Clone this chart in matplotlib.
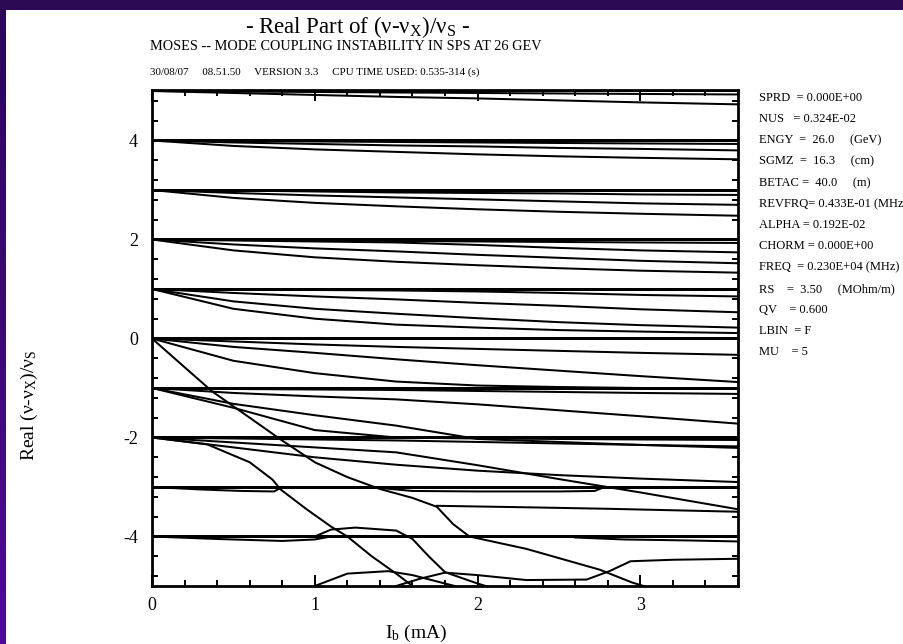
import numpy as np
import matplotlib
matplotlib.use("Agg")
import matplotlib.pyplot as plt
from matplotlib.ticker import MultipleLocator

plt.rcParams['font.family'] = ['Liberation Serif', 'DejaVu Serif']
plt.rcParams['mathtext.fontset'] = 'custom'
plt.rcParams['mathtext.rm'] = 'Liberation Serif'
plt.rcParams['mathtext.it'] = 'Liberation Serif'

# beam current grid (mA) for the slowly drifting branches
IB = [0, 0.5, 1.0, 1.5, 2.0, 2.5, 3.0, 3.6]

# Re((nu - nu_x)/nu_s) of the coherent modes, grouped by azimuthal number
mode_p5 = [
    [5.00, 5.00, 5.00, 5.00, 5.00, 5.00, 5.00, 5.00],
    [5.00, 4.99, 4.98, 4.97, 4.96, 4.95, 4.94, 4.93],
    [5.00, 4.96, 4.92, 4.88, 4.85, 4.81, 4.77, 4.73],
]
mode_p4 = [
    [4.00, 4.00, 4.00, 4.00, 4.00, 4.00, 4.00, 4.00],
    [3.98, 3.98, 3.98, 3.98, 3.98, 3.98, 3.98, 3.98],
    [4.00, 3.99, 3.98, 3.97, 3.96, 3.95, 3.94, 3.93],
    [4.00, 3.96, 3.93, 3.90, 3.88, 3.85, 3.83, 3.80],
    [4.00, 3.89, 3.82, 3.77, 3.72, 3.68, 3.65, 3.62],
]
mode_p3 = [
    [3.00, 3.00, 3.00, 3.00, 3.00, 3.00, 3.00, 3.00],
    [2.98, 2.98, 2.98, 2.98, 2.98, 2.98, 2.98, 2.98],
    [3.00, 2.99, 2.97, 2.95, 2.94, 2.93, 2.91, 2.90],
    [3.00, 2.94, 2.89, 2.85, 2.81, 2.77, 2.73, 2.70],
    [3.00, 2.84, 2.74, 2.67, 2.61, 2.56, 2.52, 2.48],
]
mode_p2 = [
    [2.00, 2.00, 2.00, 2.00, 2.00, 2.00, 2.00, 2.00],
    [1.98, 1.98, 1.98, 1.98, 1.98, 1.98, 1.98, 1.98],
    [2.00, 1.99, 1.98, 1.97, 1.96, 1.95, 1.94, 1.93],
    [2.00, 1.98, 1.96, 1.94, 1.89, 1.83, 1.78, 1.74],
    [2.00, 1.90, 1.82, 1.76, 1.69, 1.63, 1.57, 1.52],
    [2.00, 1.78, 1.64, 1.55, 1.48, 1.42, 1.37, 1.33],
]
mode_p1 = [
    [1.00, 1.00, 1.00, 1.00, 1.00, 1.00, 1.00, 1.00],
    [0.98, 0.98, 0.98, 0.98, 0.98, 0.98, 0.98, 0.98],
    [1.00, 0.99, 0.98, 0.97, 0.95, 0.92, 0.88, 0.85],
    [1.00, 0.92, 0.85, 0.79, 0.72, 0.66, 0.59, 0.53],
    [1.00, 0.75, 0.60, 0.50, 0.41, 0.33, 0.27, 0.22],
    [1.00, 0.60, 0.40, 0.28, 0.22, 0.17, 0.14, 0.11],
]
mode_0 = [
    [0.00, 0.00, 0.00, 0.00, 0.00, 0.00, 0.00, 0.00],
    [-0.02, -0.02, -0.02, -0.02, -0.02, -0.02, -0.02, -0.02],
    [0.00, -0.06, -0.12, -0.17, -0.21, -0.25, -0.29, -0.33],
    [0.00, -0.17, -0.29, -0.42, -0.54, -0.65, -0.76, -0.88],
    [0.00, -0.45, -0.70, -0.87, -0.95, -0.98, -1.00, -1.01],
]
mode_m1 = [
    [-1.00, -1.00, -1.00, -1.00, -1.00, -1.00, -1.00, -1.00],
    [-1.02, -1.02, -1.02, -1.02, -1.02, -1.02, -1.02, -1.02],
    [-1.00, -1.02, -1.03, -1.04, -1.06, -1.08, -1.10, -1.12],
    [-1.00, -1.10, -1.17, -1.23, -1.33, -1.45, -1.57, -1.72],
    [-1.00, -1.32, -1.55, -1.76, -2.03, -2.09, -2.15, -2.21],
    [-1.00, -1.40, -1.85, -2.00, -2.02, -2.03, -2.04, -2.05],
]
mode_m2 = [
    [-2.00, -2.00, -2.00, -2.00, -2.00, -2.00, -2.00, -2.00],
    [-2.02, -2.02, -2.02, -2.02, -2.02, -2.02, -2.02, -2.02],
    [-2.00, -2.02, -2.04, -2.06, -2.09, -2.12, -2.15, -2.18],
    [-2.00, -2.10, -2.20, -2.30, -2.56, -2.84, -3.11, -3.45],
    [-2.00, -2.20, -2.40, -2.55, -2.67, -2.76, -2.83, -2.90],
]
mode_m3 = [
    [-3.00, -3.00, -3.00, -3.00, -3.00, -3.00, -3.00, -3.00],
    [-3.02, -3.02, -3.02, -3.02, -3.02, -3.02, -3.02, -3.02],
]
mode_m4 = [
    [-4.00, -4.00, -4.00, -4.00, -4.00, -4.00, -4.00, -4.00],
    [-4.02, -4.02, -4.02, -4.02, -4.02, -4.02, -4.02, -4.02],
]

# branches that sweep across several families, each with its own current samples
sweep_a_x = [0, 0.2, 0.37, 0.6, 0.79, 1.0, 1.2, 1.4, 1.6, 1.75, 1.85, 1.95, 2.3, 2.75, 2.95, 3.02]
sweep_a_y = [0, -0.58, -1.07, -1.60, -2.04, -2.50, -2.80, -3.04, -3.22, -3.40, -3.75, -4.00,
             -4.25, -4.67, -4.93, -5.00]
sweep_b_x = [0, 0.34, 0.6, 0.74, 0.79, 0.95, 1.1, 1.2, 1.35, 1.5, 1.6]
sweep_b_y = [-2.00, -2.14, -2.50, -2.85, -3.05, -3.45, -3.80, -4.00, -4.40, -4.75, -5.00]
shelf_x = [1.75, 2.3, 2.8, 3.2, 3.6]
shelf_y = [-3.38, -3.41, -3.44, -3.47, -3.50]
split_m3a_x = [0, 0.3, 0.55, 0.75, 0.80]
split_m3a_y = [-3.00, -3.05, -3.08, -3.09, -3.00]
split_m3b_x = [1.40, 1.60, 2.00, 2.50, 2.72, 2.78]
split_m3b_y = [-3.02, -3.08, -3.09, -3.09, -3.08, -3.00]
split_m4a_x = [0, 0.4, 0.8, 1.0, 1.1]
split_m4a_y = [-4.00, -4.05, -4.09, -4.06, -4.00]
split_m4b_x = [2.6, 2.9, 3.3, 3.6]
split_m4b_y = [-4.02, -4.06, -4.08, -4.10]
bump_x = [1.0, 1.1, 1.25, 1.5, 1.6, 1.7, 1.8, 2.0, 2.05]
bump_y = [-4.00, -3.86, -3.82, -3.88, -4.05, -4.40, -4.72, -4.95, -5.00]
floor_a_x = [1.0, 1.2, 1.45, 1.6, 1.8, 1.86]
floor_a_y = [-5.00, -4.75, -4.70, -4.78, -4.95, -5.00]
floor_b_x = [1.5, 1.65, 1.8, 2.0, 2.3, 2.67, 2.81, 2.94, 3.2, 3.6]
floor_b_y = [-5.00, -4.85, -4.73, -4.78, -4.88, -4.87, -4.70, -4.50, -4.47, -4.45]

fig = plt.figure(figsize=(9.04, 6.44), dpi=100)
fig.patch.set_facecolor('white')

# slide frame strips along the top and left edges
frame = fig.add_axes([0, 0, 1, 1], zorder=-5)
frame.axis('off')
frame.add_patch(plt.Rectangle((0, 0), 904, 10, color='#2c0a54', lw=0))
grad = np.linspace(0, 1, 256).reshape(-1, 1)
frame.imshow(np.dstack([0.17 + 0.14 * grad, 0.03 + 0.0 * grad, 0.33 + 0.30 * grad]),
             extent=(0, 6, 644, 0), aspect='auto')
frame.set_xlim(0, 904)
frame.set_ylim(644, 0)

ax = fig.add_axes([152 / 904, 58 / 644, 586 / 904, 496 / 644])
ax.set_xlim(0, 3.6)
ax.set_ylim(-5, 5.02)

lw = 1.45
for fam in (mode_p5, mode_p4, mode_p3, mode_p2, mode_p1, mode_0,
            mode_m1, mode_m2, mode_m3, mode_m4):
    for branch in fam:
        ax.plot(IB, branch, color='black', lw=lw)
for xs, ys in ((sweep_a_x, sweep_a_y), (sweep_b_x, sweep_b_y), (shelf_x, shelf_y),
               (split_m3a_x, split_m3a_y), (split_m3b_x, split_m3b_y),
               (split_m4a_x, split_m4a_y), (split_m4b_x, split_m4b_y),
               (bump_x, bump_y), (floor_a_x, floor_a_y), (floor_b_x, floor_b_y)):
    ax.plot(xs, ys, color='black', lw=lw)

ax.xaxis.set_minor_locator(MultipleLocator(0.2))
ax.yaxis.set_minor_locator(MultipleLocator(0.4))
ax.tick_params(which='both', direction='in', top=True, right=True,
               labelsize=13, width=1.4)
ax.tick_params(axis='y', pad=10)
ax.tick_params(axis='x', pad=8)
ax.tick_params(which='major', length=8)
ax.tick_params(which='minor', length=4)
for s in ax.spines.values():
    s.set_linewidth(2)
ax.set_xticks([0, 1, 2, 3])
ax.set_xticklabels(['0', '1', '2', '3'])
ax.set_yticks([-4, -2, 0, 2, 4])
ax.set_yticklabels(['-4', '-2', '0', '2', '4'])

ax.set_xlabel(r'I$_{\rm b}$ (mA)', fontsize=14)
ax.xaxis.set_label_coords(264 / 586, -37 / 496)
ax.set_ylabel(r'Real (ν-ν$_{\rm X}$)/ν$_{\rm S}$', fontsize=14)
ax.yaxis.set_label_coords(-112 / 586, (586 - 405) / 496)

fig.text(358 / 904, 1 - 27 / 644, r'- Real Part of (ν-ν$_{\rm X}$)/ν$_{\rm S}$ -',
         fontsize=16.5, ha='center', va='center')
fig.text(150 / 904, 1 - 47 / 644, 'MOSES -- MODE COUPLING INSTABILITY IN SPS AT 26 GEV',
         fontsize=10.3, ha='left', va='center')
fig.text(150 / 904, 1 - 72 / 644,
         '30/08/07     08.51.50     VERSION 3.3     CPU TIME USED: 0.535-314 (s)',
         fontsize=7.9, ha='left', va='center')

params = ['SPRD  = 0.000E+00', 'NUS   = 0.324E-02', 'ENGY  =  26.0     (GeV)',
          'SGMZ  =  16.3     (cm)', 'BETAC =  40.0     (m)', 'REVFRQ= 0.433E-01 (MHz)',
          'ALPHA = 0.192E-02', 'CHORM = 0.000E+00', 'FREQ  = 0.230E+04 (MHz)',
          'RS    =  3.50     (MOhm/m)', 'QV    = 0.600', 'LBIN  = F', 'MU    = 5']
for i, t in enumerate(params):
    fig.text(759 / 904, 1 - (98 + 21.2 * i) / 644, t, fontsize=9,
             ha='left', va='center')

fig.savefig('out.png', dpi=100, facecolor=fig.get_facecolor())
